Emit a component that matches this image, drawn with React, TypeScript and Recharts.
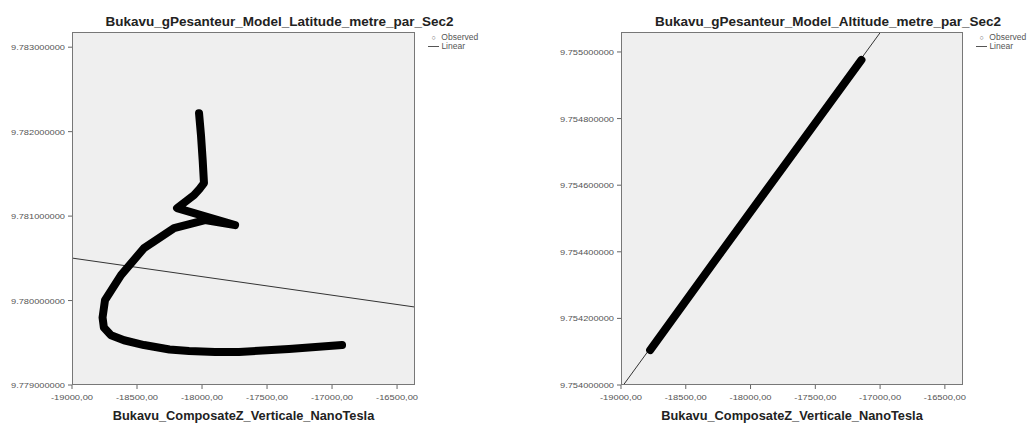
import { CartesianGrid, ComposedChart, Line, XAxis, YAxis } from "recharts";

// x axis ticks (shared by both panels)
const xTicks = [-19000, -18500, -18000, -17500, -17000, -16500];

// left panel: latitude model
const latTicks = [9.779, 9.78, 9.781, 9.782, 9.783];
const latObsX = [-18023, -18008, -17995, -17985, -18020, -18062, -18192, -17746, -17977, -18215, -18446, -18623, -18746, -18765, -18755, -18700, -18600, -18446, -18250, -18100, -17900, -17715, -17331, -16923];
const latObsY = [9.782219, 9.781959, 9.781663, 9.781391, 9.781320, 9.781248, 9.781095, 9.780893, 9.780953, 9.780858, 9.780621, 9.780302, 9.780006, 9.779800, 9.779680, 9.779590, 9.779530, 9.779473, 9.779420, 9.779402, 9.779390, 9.779391, 9.779426, 9.779473];
const latFitX = [-19000, -16362];
const latFitY = [9.780503, 9.779923];

// right panel: altitude model
const altTicks = [9.754, 9.7542, 9.7544, 9.7546, 9.7548, 9.755];
const altObsX = [-18775, -18300, -17700, -17144];
const altObsY = [9.754105, 9.75436, 9.75468, 9.754976];
const altFitX = [-19000, -16760];
const altFitY = [9.75399, 9.755186];

const font = "'Liberation Sans', Arial, sans-serif";
const zip = (xs: number[], ys: number[]) => xs.map((x, i) => ({ x, y: ys[i] }));
const fmtX = (v: number) => v.toFixed(2).replace(".", ",");
const fmtY = (v: number) => v.toFixed(9);

function XTick(props: any) {
  const { x, y, payload } = props;
  return (
    <text
      x={x}
      y={y + 9}
      textAnchor="middle"
      fontSize={8}
      fill="#555"
      fontFamily={font}
      textLength={42}
      lengthAdjust="spacingAndGlyphs"
    >
      {fmtX(payload.value)}
    </text>
  );
}

function YTick(props: any) {
  const { x, y, payload } = props;
  return (
    <text
      x={x - 1}
      y={y + 3}
      textAnchor="end"
      fontSize={8}
      fill="#555"
      fontFamily={font}
      textLength={54}
      lengthAdjust="spacingAndGlyphs"
    >
      {fmtY(payload.value)}
    </text>
  );
}

type PanelProps = {
  left: number;
  width: number;
  yAxisWidth: number;
  rightMargin: number;
  title: string;
  yTicks: number[];
  yDomain: [number, number];
  xDomain: [number, number];
  obs: { x: number; y: number }[];
  fit: { x: number; y: number }[];
};

function Panel(p: PanelProps) {
  const plotL = p.yAxisWidth;
  const plotR = p.width - p.rightMargin;
  const mid = (plotL + plotR) / 2;
  return (
    <div style={{ position: "absolute", left: p.left, top: 0, width: p.width, height: 426 }}>
      <ComposedChart
        width={p.width}
        height={426}
        margin={{ top: 32, right: p.rightMargin, bottom: 0, left: 0 }}
      >
        <CartesianGrid fill="#efefef" horizontal={false} vertical={false} />
        <XAxis
          type="number"
          dataKey="x"
          domain={p.xDomain}
          ticks={xTicks}
          height={41}
          axisLine={false}
          tickSize={4}
          tickLine={{ stroke: "#666" }}
          tick={<XTick />}
          allowDataOverflow
        />
        <YAxis
          type="number"
          dataKey="y"
          domain={p.yDomain}
          ticks={p.yTicks}
          width={p.yAxisWidth}
          axisLine={false}
          tickSize={4}
          tickLine={{ stroke: "#666" }}
          tick={<YTick />}
          allowDataOverflow
        />
        <Line
          data={p.fit}
          dataKey="y"
          type="linear"
          stroke="#333"
          strokeWidth={1}
          dot={false}
          isAnimationActive={false}
        />
        <Line
          data={p.obs}
          dataKey="y"
          type="linear"
          stroke="#000"
          strokeWidth={8}
          strokeLinejoin="round"
          strokeLinecap="round"
          dot={false}
          isAnimationActive={false}
        />
      </ComposedChart>
      <div
        style={{
          position: "absolute",
          left: plotL,
          top: 32,
          width: plotR - plotL,
          height: 353,
          border: "1px solid #777",
          boxSizing: "border-box",
          pointerEvents: "none",
        }}
      />
      <div
        style={{
          position: "absolute",
          left: mid + 36 - 250,
          width: 500,
          top: 14,
          textAlign: "center",
          fontFamily: font,
          fontSize: 13.5,
          fontWeight: "bold",
          color: "#222",
          whiteSpace: "nowrap",
        }}
      >
        {p.title}
      </div>
      <div
        style={{
          position: "absolute",
          left: mid - 200,
          width: 400,
          top: 408,
          textAlign: "center",
          fontFamily: font,
          fontSize: 12.8,
          fontWeight: "bold",
          color: "#222",
          whiteSpace: "nowrap",
        }}
      >
        Bukavu_ComposateZ_Verticale_NanoTesla
      </div>
      <div
        style={{
          position: "absolute",
          left: plotR + 13,
          top: 33,
          fontFamily: font,
          fontSize: 8.5,
          color: "#555",
          lineHeight: "8px",
          whiteSpace: "nowrap",
        }}
      >
        <div>
          <span style={{ display: "inline-block", width: 11, textAlign: "center", fontSize: 7 }}>○</span> Observed
        </div>
        <div>
          <span
            style={{
              display: "inline-block",
              width: 11,
              height: 0,
              borderTop: "1px solid #555",
              verticalAlign: "middle",
            }}
          />{" "}
          Linear
        </div>
      </div>
    </div>
  );
}

export default function App() {
  return (
    <div
      style={{
        position: "absolute",
        left: 0,
        top: 0,
        width: 1031,
        height: 426,
        background: "#fff",
        overflow: "hidden",
      }}
    >
      <Panel
        left={0}
        width={515}
        yAxisWidth={72}
        rightMargin={100}
        title="Bukavu_gPesanteur_Model_Latitude_metre_par_Sec2"
        yTicks={latTicks}
        yDomain={[9.779, 9.78318]}
        xDomain={[-19000, -16362]}
        obs={zip(latObsX, latObsY)}
        fit={zip(latFitX, latFitY)}
      />
      <Panel
        left={515}
        width={516}
        yAxisWidth={106}
        rightMargin={68}
        title="Bukavu_gPesanteur_Model_Altitude_metre_par_Sec2"
        yTicks={altTicks}
        yDomain={[9.754, 9.75506]}
        xDomain={[-19000, -16360]}
        obs={zip(altObsX, altObsY)}
        fit={zip(altFitX, altFitY)}
      />
    </div>
  );
}
